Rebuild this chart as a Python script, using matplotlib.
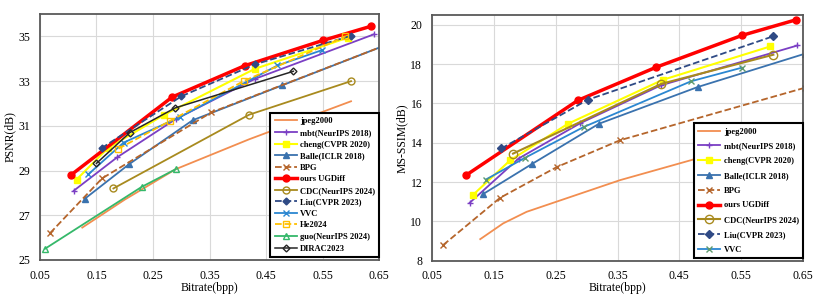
import matplotlib
matplotlib.use("Agg")
import matplotlib.pyplot as plt

plt.rcParams['font.family'] = ['Liberation Serif', 'DejaVu Serif']

# ---------------- PSNR data (left) ----------------
jpeg_x = [0.125, 0.20, 0.29, 0.42, 0.60]
jpeg_y = [26.45, 27.7, 29.06, 30.4, 32.1]
mbt_x = [0.11, 0.187, 0.29, 0.43, 0.641]
mbt_y = [28.1, 29.6, 31.3, 33.1, 35.1]
cheng_x = [0.115, 0.17, 0.27, 0.43, 0.595]
cheng_y = [28.6, 30.0, 31.5, 33.55, 34.95]
balle_x = [0.13, 0.208, 0.32, 0.478, 0.66]
balle_y = [27.75, 29.29, 31.25, 32.81, 34.6]
bpg_x = [0.068, 0.16, 0.353, 0.66]
bpg_y = [26.2, 28.65, 31.6, 34.6]
ours_x = [0.105, 0.284, 0.412, 0.55, 0.636]
ours_y = [28.8, 32.29, 33.69, 34.82, 35.46]
cdc_x = [0.18, 0.42, 0.60]
cdc_y = [28.2, 31.5, 33.0]
liu_x = [0.159, 0.30, 0.43, 0.60]
liu_y = [30.0, 32.32, 33.75, 35.03]
vvc_x = [0.136, 0.198, 0.298, 0.47, 0.548]
vvc_y = [28.84, 30.25, 31.4, 33.7, 34.38]
he_x = [0.189, 0.28, 0.41, 0.59]
he_y = [29.98, 31.22, 33.0, 35.0]
guo_x = [0.059, 0.23, 0.29]
guo_y = [25.5, 28.27, 29.06]
dirac_x = [0.15, 0.209, 0.289, 0.498]
dirac_y = [29.32, 30.7, 31.8, 33.44]

# ---------------- MS-SSIM data (right) ----------------
s_jpeg_x = [0.128, 0.165, 0.203, 0.354, 0.467, 0.60]
s_jpeg_y = [9.1, 9.9, 10.49, 12.1, 13.1, 14.3]
s_mbt_x = [0.111, 0.19, 0.29, 0.42, 0.641]
s_mbt_y = [10.95, 13.2, 15.0, 16.92, 18.95]
s_cheng_x = [0.117, 0.176, 0.27, 0.423, 0.597]
s_cheng_y = [11.37, 13.1, 14.97, 17.2, 18.9]
s_balle_x = [0.133, 0.211, 0.32, 0.48, 0.653]
s_balle_y = [11.4, 12.91, 14.97, 16.84, 18.53]
s_bpg_x = [0.068, 0.16, 0.252, 0.354, 0.653]
s_bpg_y = [8.8, 11.2, 12.77, 14.13, 16.8]
s_ours_x = [0.105, 0.286, 0.413, 0.551, 0.638]
s_ours_y = [12.35, 16.16, 17.85, 19.46, 20.25]
s_cdc_x = [0.181, 0.421, 0.602]
s_cdc_y = [13.45, 17.0, 18.48]
s_liu_x = [0.162, 0.302, 0.601]
s_liu_y = [13.71, 16.19, 19.41]
s_vvc_x = [0.137, 0.20, 0.295, 0.469, 0.551]
s_vvc_y = [12.13, 13.23, 14.8, 17.13, 17.82]

x_ticks = [0.05, 0.15, 0.25, 0.35, 0.45, 0.55, 0.65]
psnr_ticks = [25, 27, 29, 31, 33, 35]
ssim_ticks = [8, 10, 12, 14, 16, 18, 20]

C = dict(jpeg='#F28E50', mbt='#7B3FC4', cheng='#FFFF00', balle='#3A72AE',
         bpg='#B5652B', ours='#FF0000', cdc='#A88A1E', liu='#2F4A85',
         vvc='#2B87D1', he='#FFC000', guo='#35B86A', dirac='#262626')

fig = plt.figure(figsize=(8.3, 2.97), dpi=100)
ax1 = fig.add_axes([0.048, 0.1246, 0.409, 0.828])
ax2 = fig.add_axes([0.5205, 0.122, 0.447, 0.8275])

ms = 4

def style(ax, yt, ylim, ylabel):
    ax.set_xlim(0.05, 0.65)
    ax.set_ylim(*ylim)
    ax.set_xticks(x_ticks)
    ax.set_xticklabels([f"{v:.2f}" for v in x_ticks])
    ax.set_yticks(yt)
    ax.grid(True, color='#D9D9D9', linewidth=0.8)
    ax.set_axisbelow(True)
    for s in ax.spines.values():
        s.set_color('#595959')
        s.set_linewidth(1.3)
    ax.tick_params(axis='x', labelsize=8.5, length=0, pad=7)
    ax.tick_params(axis='y', labelsize=8.5, length=0, pad=7)
    ax.set_xlabel('Bitrate(bpp)', fontsize=8.5, labelpad=0)
    ax.set_ylabel(ylabel, fontsize=8.5, labelpad=2)

# left
ax1.plot(jpeg_x, jpeg_y, '-', color=C['jpeg'], lw=1.3, label='jpeg2000')
ax1.plot(mbt_x, mbt_y, '-', color=C['mbt'], lw=1.3, marker='+', ms=5, label='mbt(NeurIPS 2018)')
ax1.plot(cheng_x, cheng_y, '-', color=C['cheng'], lw=1.5, marker='s', ms=ms, label='cheng(CVPR 2020)')
ax1.plot(balle_x, balle_y, '-', color=C['balle'], lw=1.3, marker='^', ms=ms, label='Balle(ICLR 2018)')
ax1.plot(bpg_x, bpg_y, '--', color=C['bpg'], lw=1.3, marker='x', ms=ms, label='BPG')
ax1.plot(ours_x, ours_y, '-', color=C['ours'], lw=2.5, marker='o', ms=5, label='ours UGDiff')
ax1.plot(cdc_x, cdc_y, '-', color=C['cdc'], lw=1.3, marker='o', mfc='none', ms=ms + 1, label='CDC(NeurIPS 2024)')
ax1.plot(liu_x, liu_y, '--', color=C['liu'], lw=1.3, marker='D', ms=3.5, label='Liu(CVPR 2023)')
ax1.plot(vvc_x, vvc_y, '-', color=C['vvc'], lw=1.3, marker='x', ms=ms, label='VVC')
ax1.plot(he_x, he_y, '--', color=C['he'], lw=1.3, marker='s', mfc='none', ms=ms + 1, label='He2024')
ax1.plot(guo_x, guo_y, '-', color=C['guo'], lw=1.3, marker='^', mfc='none', ms=ms + 1, label='guo(NeurIPS 2024)')
ax1.plot(dirac_x, dirac_y, '-', color=C['dirac'], lw=1.1, marker='D', mfc='none', ms=3.5, label='DIRAC2023')
style(ax1, psnr_ticks, (25, 36), 'PSNR(dB)')

# right
ax2.plot(s_jpeg_x, s_jpeg_y, '-', color=C['jpeg'], lw=1.3, label='jpeg2000')
ax2.plot(s_mbt_x, s_mbt_y, '-', color=C['mbt'], lw=1.3, marker='+', ms=5, label='mbt(NeurIPS 2018)')
ax2.plot(s_cheng_x, s_cheng_y, '-', color=C['cheng'], lw=1.5, marker='s', ms=ms, label='cheng(CVPR 2020)')
ax2.plot(s_balle_x, s_balle_y, '-', color=C['balle'], lw=1.3, marker='^', ms=ms, label='Balle(ICLR 2018)')
ax2.plot(s_bpg_x, s_bpg_y, '--', color=C['bpg'], lw=1.3, marker='x', ms=ms, label='BPG')
ax2.plot(s_ours_x, s_ours_y, '-', color=C['ours'], lw=2.5, marker='o', ms=5, label='ours UGDiff')
ax2.plot(s_cdc_x, s_cdc_y, '-', color=C['cdc'], lw=1.5, marker='o', mfc='none', ms=ms + 2, label='CDC(NeurIPS 2024)')
ax2.plot(s_liu_x, s_liu_y, '--', color=C['liu'], lw=1.3, marker='D', ms=4, label='Liu(CVPR 2023)')
ax2.plot(s_vvc_x, s_vvc_y, '-', color=C['vvc'], lw=1.3, marker='x', mec='#5E9A6E', ms=ms, label='VVC')
style(ax2, ssim_ticks, (8, 20.5), 'MS-SSIM(dB)')

for ax, anchor, lsp in ((ax1, (1.0, 0.013), 0.42), (ax2, (1.0, 0.011), 0.8)):
    leg = ax.legend(loc='lower right', bbox_to_anchor=anchor, borderaxespad=0,
                    prop={'family': 'Liberation Serif', 'weight': 'bold', 'size': 6.1},
                    frameon=True, fancybox=False, handlelength=2.6, labelspacing=lsp,
                    handletextpad=0.4, borderpad=0.5)
    leg.get_frame().set_edgecolor('black')
    leg.get_frame().set_linewidth(1.5)
    leg.get_frame().set_alpha(1)

fig.savefig('out.png', dpi=100)
